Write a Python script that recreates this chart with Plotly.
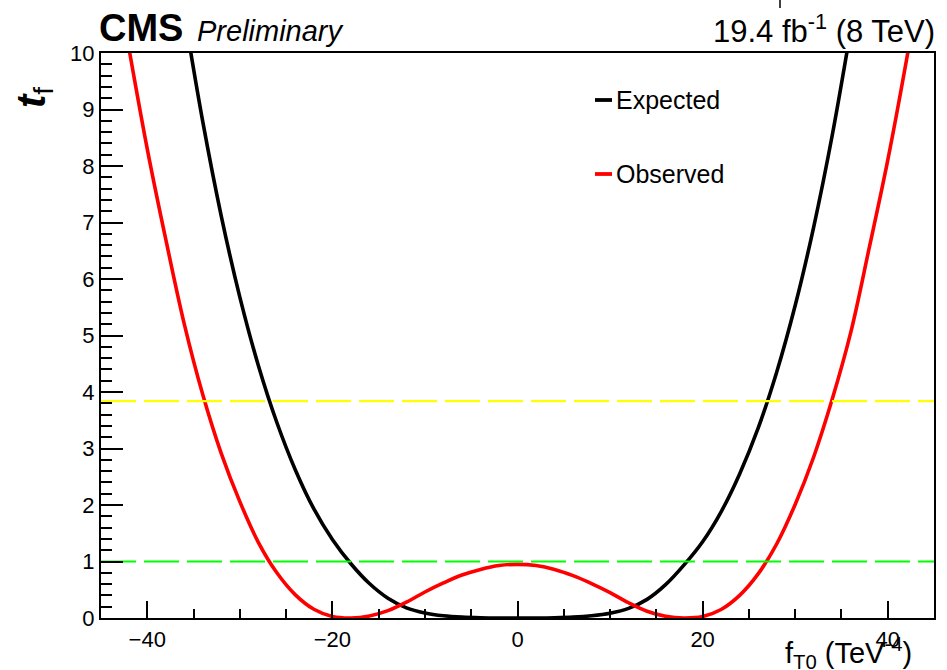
import plotly.graph_objects as go

# Scan of the test statistic versus the anomalous coupling f_T0
exp_x = [-36, -34, -32, -30, -28, -26, -24, -22, -20, -18, -16, -14, -12, -10, -8, -6, -4, -2,
         0, 2, 4, 6, 8, 10, 12, 14, 16, 18, 20, 22, 24, 26, 28, 30, 32, 34, 36]
exp_y = [10.7, 8.78, 7.11, 5.68, 4.47, 3.46, 2.62, 1.93, 1.39, 0.96, 0.61, 0.35, 0.18, 0.09, 0.04, 0.015, 0.004, 0.0,
         0.0, 0.0, 0.004, 0.015, 0.04, 0.085, 0.17, 0.33, 0.59, 0.94, 1.35, 1.88, 2.55, 3.36, 4.35, 5.53, 6.92, 8.54, 10.41]

obs_x = [-42, -40, -38, -36, -34, -32, -30, -28, -26, -24, -22, -20, -18, -16, -14, -12, -10, -8, -6, -4, -2,
         0, 2, 4, 6, 8, 10, 12, 14, 16, 18, 20, 22, 24, 26, 28, 30, 32, 34, 36, 38, 40, 42, 43]
obs_y = [10.1, 8.3, 6.7, 5.2, 3.95, 2.91, 2.06, 1.34, 0.80, 0.41, 0.155, 0.027, 0.0, 0.035, 0.13, 0.28, 0.46, 0.62, 0.76, 0.86, 0.93,
         0.95, 0.93, 0.86, 0.75, 0.61, 0.45, 0.27, 0.12, 0.03, 0.0, 0.026, 0.15, 0.40, 0.78, 1.31, 2.01, 2.85, 3.87, 5.05, 6.55, 8.1, 9.85, 10.8]

# Reference thresholds (95% CL and 68% CL)
cl95 = 3.84
cl68 = 1.0
x_range = [-45, 45]

series_names = ["Expected", "Observed"]
series_colors = ["#000000", "#ff0000"]

FONT = "Liberation Sans, Arial, Helvetica, sans-serif"

fig = go.Figure()

for name, xs, ys, col in [(series_names[0], exp_x, exp_y, series_colors[0]),
                          (series_names[1], obs_x, obs_y, series_colors[1])]:
    fig.add_trace(go.Scatter(x=xs, y=ys, mode="lines", name=name,
                             line=dict(color=col, width=3.6, shape="spline", smoothing=1.0),
                             showlegend=False))

# Horizontal dashed threshold lines
for level, col in [(cl95, "#ffff00"), (cl68, "#00ff00")]:
    fig.add_trace(go.Scatter(x=x_range, y=[level, level], mode="lines",
                             line=dict(color=col, width=2.2, dash="35px,8px"),
                             showlegend=False, hoverinfo="skip"))

# Frame position in pixels
L, R, T, B = 101, 934, 53, 618
def px(x):
    return (x - L) / (R - L)
def py(y):
    return (B - y) / (B - T)

shapes = []
annots = []
# Hand-placed legend (line sample + label)
for i, (name, col) in enumerate(zip(series_names, series_colors)):
    yy = [100, 174][i]
    shapes.append(dict(type="line", xref="paper", yref="paper",
                       x0=px(595), x1=px(612), y0=py(yy), y1=py(yy),
                       line=dict(color=col, width=3.8)))
    annots.append(dict(text=name, xref="paper", yref="paper", x=px(614), y=py(yy),
                       xanchor="left", yanchor="middle", showarrow=False,
                       font=dict(family=FONT, size=25, color="black")))

# Small stroke above the luminosity label
shapes.append(dict(type="line", xref="paper", yref="paper",
                   x0=px(780), x1=px(780), y0=py(0), y1=py(8),
                   line=dict(color="black", width=1.5)))

annots += [
    dict(text="<b>CMS</b>", xref="paper", yref="paper", x=px(97), y=py(51),
         xanchor="left", yanchor="bottom", showarrow=False,
         font=dict(family=FONT, size=38, color="black")),
    dict(text="<i>Preliminary</i>", xref="paper", yref="paper", x=px(195), y=py(49),
         xanchor="left", yanchor="bottom", showarrow=False,
         font=dict(family=FONT, size=29, color="black")),
    dict(text="19.4 fb<sup>-1</sup> (8 TeV)", xref="paper", yref="paper", x=px(937), y=py(51),
         xanchor="right", yanchor="bottom", showarrow=False,
         font=dict(family=FONT, size=31, color="black")),
    dict(text="f<sub>T0</sub> (TeV<sup>-4</sup>)", xref="paper", yref="paper", x=px(914), y=py(675),
         xanchor="right", yanchor="bottom", showarrow=False,
         font=dict(family=FONT, size=29, color="black")),
    dict(text="<b><i>t</i></b><sub>f</sub>", xref="paper", yref="paper", x=px(34), y=py(98),
         xanchor="center", yanchor="middle", showarrow=False, textangle=-90,
         font=dict(family=FONT, size=40, color="black")),
]

fig.update_layout(
    width=947, height=670,
    margin=dict(l=L, r=947 - R, t=T, b=670 - B),
    paper_bgcolor="white", plot_bgcolor="white",
    shapes=shapes, annotations=annots,
    font=dict(family=FONT, color="black"),
    xaxis=dict(range=x_range, tickmode="linear", tick0=0, dtick=20,
               ticks="inside", ticklen=17, tickwidth=1.8, tickcolor="black",
               minor=dict(tick0=0, dtick=5, ticks="inside", ticklen=9, tickwidth=1.5, tickcolor="black"),
               showline=True, mirror=True, linewidth=2.2, linecolor="black",
               showgrid=False, zeroline=False,
               tickfont=dict(family=FONT, size=22, color="black")),
    yaxis=dict(range=[0, 10], tickmode="linear", tick0=0, dtick=1,
               ticks="inside", ticklen=22, tickwidth=1.8, tickcolor="black",
               minor=dict(tick0=0, dtick=0.2, ticks="inside", ticklen=11, tickwidth=1.5, tickcolor="black"),
               showline=True, mirror=True, linewidth=2.2, linecolor="black",
               showgrid=False, zeroline=False,
               tickfont=dict(family=FONT, size=22, color="black")),
)

fig.write_html("out.html")
